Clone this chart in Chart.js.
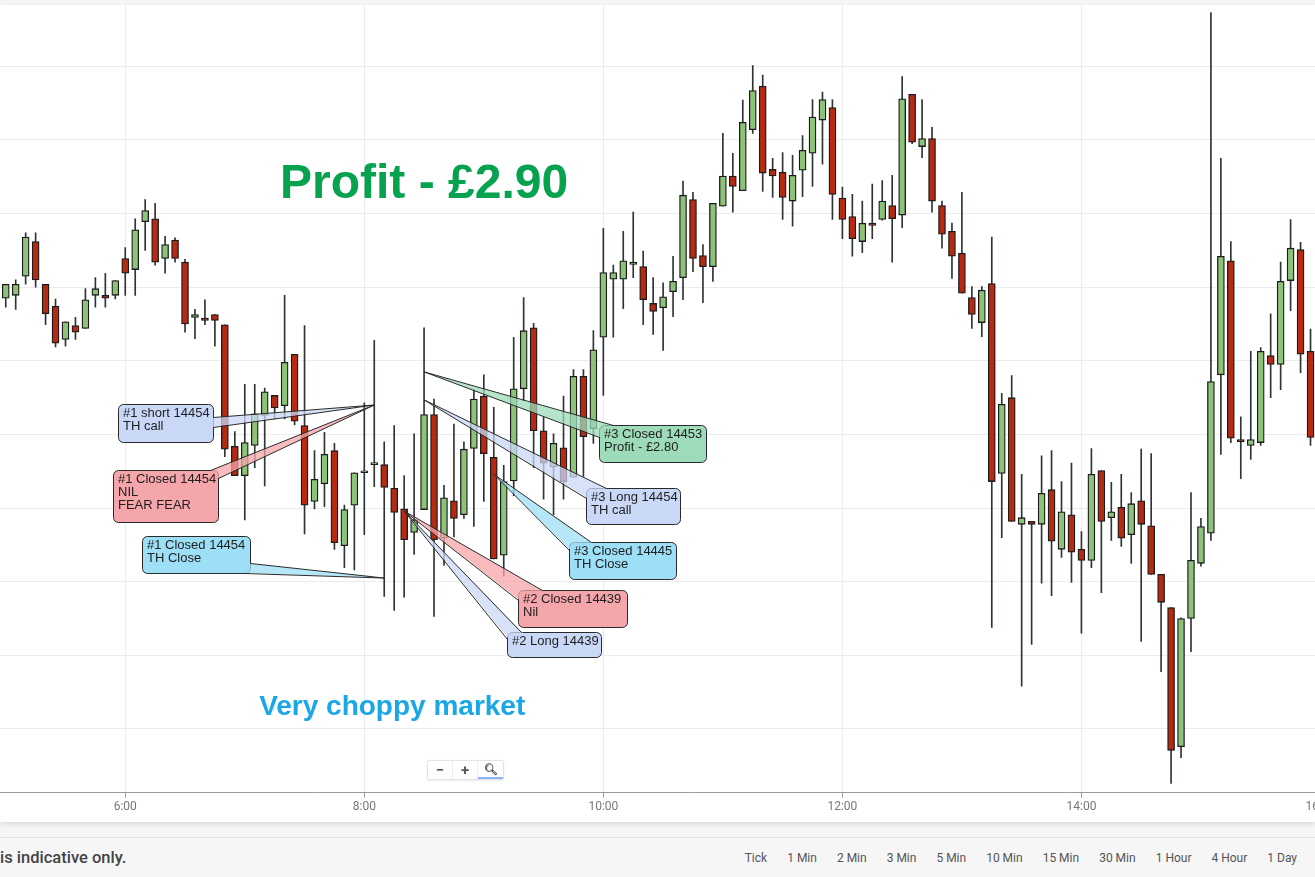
<!DOCTYPE html>
<html>
<head>
<meta charset="utf-8">
<title>5 min chart</title>
<script src="https://cdn.jsdelivr.net/npm/chart.js@4.4.1/dist/chart.umd.min.js"></script>
<style>
    html, body { margin: 0; padding: 0; width: 1315px; height: 877px; overflow: hidden; background: #f6f6f6; font-family: Roboto, Arial, sans-serif; }
    #panel { position: absolute; left: 0; top: 5px; width: 1315px; height: 817px; background: #fff; box-shadow: 0 2px 5px rgba(0,0,0,0.12); overflow: hidden; }
    #wrap { position: absolute; left: -60px; top: 0; width: 1500px; height: 812px; }
    #zoomCtl { position: absolute; left: 427px; top: 755px; height: 18px; display: flex; background: #fff; border: 1px solid #e4e4e4; border-radius: 2px; box-shadow: 0 1px 2px rgba(0,0,0,0.08); }
    #zoomCtl span { width: 25px; height: 18px; line-height: 18px; text-align: center; color: #555; font-size: 15px; font-weight: bold; border-right: 1px solid #eee; box-sizing: border-box; }
    #zoomCtl span:last-child { border-right: none; font-size: 11px; border-bottom: 2px solid #8ab4f8; }
    #footer { position: absolute; left: 0; top: 837px; width: 1315px; height: 40px; border-top: 1px solid #e2e2e2; }
    #disclaimer { position: absolute; left: 0; top: 10px; font-size: 16.5px; font-weight: 500; color: #444; }
    #frames { position: absolute; right: 18px; top: 13px; display: flex; gap: 20px; font-size: 12px; color: #555; }
</style>
</head>
<body>
<div id="panel">
    <div id="wrap"><canvas id="chart"></canvas></div>
    <div id="zoomCtl"><span>&minus;</span><span>+</span><span>&#x1F50D;&#xFE0E;</span></div>
</div>
<div id="footer">
    <div id="disclaimer">is indicative only.</div>
    <div id="frames"><span>Tick</span><span>1 Min</span><span>2 Min</span><span>3 Min</span><span>5 Min</span><span>10 Min</span><span>15 Min</span><span>30 Min</span><span>1 Hour</span><span>4 Hour</span><span>1 Day</span></div>
</div>
<script>
// 5 minute candles, one row per hour
const times = [
    '5:00','5:05','5:10','5:15','5:20','5:25','5:30','5:35','5:40','5:45','5:50','5:55',
    '6:00','6:05','6:10','6:15','6:20','6:25','6:30','6:35','6:40','6:45','6:50','6:55',
    '7:00','7:05','7:10','7:15','7:20','7:25','7:30','7:35','7:40','7:45','7:50','7:55',
    '8:00','8:05','8:10','8:15','8:20','8:25','8:30','8:35','8:40','8:45','8:50','8:55',
    '9:00','9:05','9:10','9:15','9:20','9:25','9:30','9:35','9:40','9:45','9:50','9:55',
    '10:00','10:05','10:10','10:15','10:20','10:25','10:30','10:35','10:40','10:45','10:50','10:55',
    '11:00','11:05','11:10','11:15','11:20','11:25','11:30','11:35','11:40','11:45','11:50','11:55',
    '12:00','12:05','12:10','12:15','12:20','12:25','12:30','12:35','12:40','12:45','12:50','12:55',
    '13:00','13:05','13:10','13:15','13:20','13:25','13:30','13:35','13:40','13:45','13:50','13:55',
    '14:00','14:05','14:10','14:15','14:20','14:25','14:30','14:35','14:40','14:45','14:50','14:55',
    '15:00','15:05','15:10','15:15','15:20','15:25','15:30','15:35','15:40','15:45','15:50','15:55'
];
const opens = [
    14468.5,14468.9,14471.5,14476.2,14470.4,14467.4,14462.9,14464.8,14464.4,14468.9,14468.9,14468.9,
    14473.9,14472.4,14478.9,14479.3,14473.9,14476.4,14473.4,14465.9,14465.8,14466.3,14464.9,14448.4,
    14444.4,14448.5,14452.6,14455.3,14453.9,14460.9,14451.2,14440.9,14443.3,14447.8,14434.9,14440.4,
    14444.8,14445.9,14445.9,14442.7,14439.9,14436.7,14439.8,14452.7,14435.9,14441.0,14439.1,14448.1,
    14455.2,14446.9,14433.6,14443.7,14456.2,14464.5,14450.5,14445.6,14448.2,14444.2,14457.9,14450.8,
    14463.2,14471.1,14471.1,14473.1,14472.8,14467.8,14467.2,14469.4,14471.3,14481.9,14474.3,14472.8,
    14481.0,14485.1,14483.1,14491.4,14497.3,14486.0,14485.6,14481.7,14485.9,14488.2,14492.7,14494.4,
    14482.1,14479.6,14476.2,14478.7,14479.2,14481.1,14479.8,14496.2,14489.1,14490.2,14481.1,14477.6,
    14474.6,14468.6,14465.2,14470.5,14444.7,14455.0,14437.8,14438.2,14437.8,14442.5,14434.4,14439.1,
    14434.4,14432.9,14445.1,14438.7,14440.1,14436.4,14441.0,14437.6,14431.0,14426.5,14407.6,14425.0,
    14432.5,14436.6,14458.1,14473.6,14449.3,14448.5,14448.9,14460.7,14459.5,14470.9,14475.1,14461.3
];
const highs = [
    14470.4,14471.0,14477.4,14477.4,14470.4,14468.4,14465.3,14465.9,14469.8,14471.3,14471.9,14470.9,
    14475.4,14479.3,14481.9,14481.4,14476.9,14476.7,14473.8,14467.0,14468.3,14466.3,14464.9,14450.4,
    14456.8,14456.8,14456.3,14455.3,14468.9,14460.9,14464.8,14447.8,14450.3,14448.8,14440.4,14444.8,
    14454.3,14462.8,14449.0,14451.2,14444.4,14450.1,14464.5,14454.8,14443.1,14451.4,14449.0,14456.1,
    14458.1,14453.7,14445.8,14463.2,14468.6,14465.1,14452.4,14450.1,14455.2,14458.8,14458.8,14464.1,
    14478.0,14473.0,14477.6,14480.2,14474.9,14471.3,14470.6,14474.2,14484.4,14482.9,14475.8,14481.4,
    14490.9,14488.2,14495.4,14500.1,14498.8,14487.5,14488.3,14487.9,14490.6,14495.5,14496.5,14495.5,
    14483.6,14482.6,14481.7,14484.0,14484.5,14485.2,14498.6,14496.2,14495.5,14491.7,14481.7,14478.7,
    14482.9,14470.1,14470.1,14476.8,14455.6,14458.0,14444.6,14438.2,14447.1,14447.8,14443.6,14446.1,
    14436.8,14448.1,14445.1,14443.5,14444.6,14442.1,14448.0,14447.4,14431.0,14426.5,14425.1,14442.1,
    14438.6,14507.3,14487.5,14476.2,14452.4,14461.3,14461.8,14466.4,14473.4,14479.2,14476.1,14464.3
];
const lows = [
    14467.3,14467.0,14470.4,14470.0,14464.9,14461.9,14462.0,14462.9,14464.4,14467.3,14467.3,14468.4,
    14468.9,14468.9,14475.0,14473.0,14471.9,14473.4,14463.9,14463.0,14464.9,14462.0,14447.0,14444.4,
    14438.4,14445.5,14443.0,14452.1,14452.1,14451.3,14436.5,14439.9,14440.2,14434.4,14431.9,14431.6,
    14436.4,14442.9,14428.0,14426.1,14427.9,14433.7,14439.8,14425.3,14432.2,14436.1,14438.6,14437.5,
    14440.9,14433.1,14430.8,14441.7,14454.6,14445.5,14441.2,14439.1,14441.2,14444.2,14444.3,14448.8,
    14455.3,14463.2,14467.1,14471.3,14464.9,14463.6,14461.4,14466.0,14468.3,14472.1,14467.9,14470.8,
    14481.0,14480.2,14483.1,14490.9,14483.0,14482.2,14479.2,14478.3,14482.3,14483.7,14486.7,14479.2,
    14476.6,14474.2,14474.7,14476.6,14479.1,14473.4,14478.1,14489.5,14487.6,14480.2,14475.3,14471.2,
    14469.2,14464.4,14463.3,14423.8,14436.0,14438.2,14415.8,14421.5,14429.8,14428.1,14433.3,14429.9,
    14423.0,14431.9,14428.5,14435.6,14434.8,14432.5,14421.9,14431.0,14417.8,14402.6,14406.1,14420.5,
    14432.1,14435.6,14447.3,14448.9,14444.0,14446.6,14448.5,14455.0,14456.1,14466.8,14458.4,14448.5
];
const closes = [
    14470.4,14470.4,14476.8,14471.0,14466.4,14462.4,14465.3,14463.9,14468.3,14469.8,14468.5,14470.9,
    14471.9,14477.8,14480.4,14473.4,14475.8,14473.9,14465.0,14466.3,14465.5,14465.5,14448.0,14444.4,
    14448.9,14452.8,14455.8,14453.6,14459.8,14451.8,14440.4,14443.9,14447.3,14435.3,14439.8,14444.8,
    14444.8,14445.9,14442.8,14439.4,14435.7,14438.4,14452.7,14435.7,14441.4,14438.6,14448.0,14454.8,
    14447.4,14433.1,14443.6,14456.2,14464.1,14450.5,14446.1,14448.8,14443.6,14457.9,14449.7,14461.5,
    14472.0,14472.0,14473.6,14473.4,14468.3,14466.7,14468.7,14470.8,14482.5,14473.9,14472.8,14481.4,
    14485.1,14483.7,14492.4,14496.7,14485.5,14485.1,14482.2,14485.2,14488.6,14493.1,14495.5,14482.6,
    14479.2,14476.6,14478.7,14478.4,14481.7,14479.3,14495.6,14489.7,14490.2,14481.7,14477.2,14474.2,
    14469.2,14466.3,14469.6,14443.6,14454.1,14438.2,14438.7,14437.8,14442.0,14435.5,14439.5,14434.0,
    14432.9,14444.6,14438.2,14439.5,14435.9,14440.6,14437.8,14431.0,14427.2,14407.1,14425.0,14432.9,
    14437.5,14457.2,14474.2,14449.5,14449.0,14449.3,14461.3,14459.5,14470.8,14475.3,14460.9,14449.6
];

// trade callouts: tip sits on a candle (time, price), box is placed relative to the tip in px
const notes = [
    { lines: ['#1 short 14454', 'TH call'], at: ['8:05', 14454.0], fill: '#c9d8f7', box: [-256, -1, 95, 38], base: [[95, 13], [95, 23]] },
    { lines: ['#1 Closed 14454', 'NIL', 'FEAR FEAR'], at: ['8:05', 14454.0], fill: '#f5a6aa', box: [-261, 65, 105, 52], base: [[97, 0], [105, 8]] },
    { lines: ['#1 Closed 14454', 'TH Close'], at: ['8:10', 14430.5], fill: '#9ddff6', box: [-242, -42, 108, 37], base: [[108, 27], [102, 37]] },
    { lines: ['#2 Closed 14439', 'Nil'], at: ['8:20', 14439.6], fill: '#f5a6aa', box: [114, 79, 109, 37], base: [[0, 10], [24, 0]] },
    { lines: ['#2 Long 14439'], at: ['8:20', 14439.6], fill: '#c9d8f7', box: [103, 121, 94, 25], base: [[0, 7], [14, 0]] },
    { lines: ['#3 Closed 14445', 'TH Close'], at: ['9:05', 14444.6], fill: '#9ddff6', box: [75, 68, 107, 37], base: [[0, 8], [22, 0]] },
    { lines: ['#3 Long 14454', 'TH call'], at: ['8:30', 14454.7], fill: '#c9d8f7', box: [162, 88, 94, 36], base: [[0, 10], [20, 0]] },
    { lines: ['#3 Closed 14453', 'Profit - £2.80'], at: ['8:30', 14458.5], fill: '#9ddbb9', box: [175, 53, 107, 37], base: [[0, 12], [14, 0]] }
];
const bigLabels = [
    { text: 'Profit - £2.90', at: ['8:30', 14483.9], font: 'bold 48px "Liberation Sans", Arial', color: '#07a24e' },
    { text: 'Very choppy market', at: ['8:14', 14413.0], font: 'bold 28px "Liberation Sans", Arial', color: '#1aa7e6' }
];

function toMin(s) {
    const parts = s.split(':');
    return parseInt(parts[0]) * 60 + parseInt(parts[1]);
}

function roundRect(ctx, x, y, w, h, r) {
    ctx.beginPath();
    ctx.moveTo(x + r, y);
    ctx.arcTo(x + w, y, x + w, y + h, r);
    ctx.arcTo(x + w, y + h, x, y + h, r);
    ctx.arcTo(x, y + h, x, y, r);
    ctx.arcTo(x, y, x + w, y, r);
    ctx.closePath();
}

const notesPlugin = {
    id: 'notes',
    afterDatasetsDraw(chart) {
        const ctx = chart.ctx;
        const xs = chart.scales.x, ys = chart.scales.y;
        ctx.save();

        bigLabels.forEach(l => {
            ctx.font = l.font;
            ctx.fillStyle = l.color;
            ctx.textAlign = 'center';
            ctx.textBaseline = 'middle';
            ctx.fillText(l.text, xs.getPixelForValue(toMin(l.at[0])), ys.getPixelForValue(l.at[1]));
        });

        notes.forEach(n => {
            const tx = xs.getPixelForValue(toMin(n.at[0]));
            const ty = ys.getPixelForValue(n.at[1]);
            const bx = Math.round(tx + n.box[0]) + 0.5, by = Math.round(ty + n.box[1]) + 0.5;
            const bw = n.box[2], bh = n.box[3];
            ctx.lineWidth = 1;
            ctx.strokeStyle = '#2a2a2a';
            ctx.fillStyle = n.fill;
            roundRect(ctx, bx, by, bw, bh, 5);
            ctx.fill();
            ctx.stroke();

            // pointer wedge, see-through over the candles, merged into the box edge
            const cx = bx + bw / 2, cy = by + bh / 2;
            const pts = n.base.map(b => [bx + b[0], by + b[1]]);
            const inner = pts.map(p => {
                const dx = cx - p[0], dy = cy - p[1], d = Math.hypot(dx, dy);
                return [p[0] + dx / d * 2, p[1] + dy / d * 2];
            });
            ctx.beginPath();
            ctx.moveTo(inner[0][0], inner[0][1]);
            ctx.lineTo(tx, ty);
            ctx.lineTo(inner[1][0], inner[1][1]);
            ctx.closePath();
            ctx.globalAlpha = 0.75;
            ctx.fill();
            ctx.globalAlpha = 1;
            ctx.beginPath();
            ctx.moveTo(pts[0][0], pts[0][1]);
            ctx.lineTo(tx, ty);
            ctx.lineTo(pts[1][0], pts[1][1]);
            ctx.stroke();

            ctx.fillStyle = '#1e1e1e';
            ctx.font = '13px "Liberation Sans", Arial';
            ctx.textAlign = 'left';
            ctx.textBaseline = 'middle';
            n.lines.forEach((line, k) => ctx.fillText(line, bx + 4.5, by + 9 + k * 13));
        });
        ctx.restore();
    }
};

const bodyColors = opens.map((o, i) => closes[i] < o ? '#b72a12' : '#8dc378');

new Chart(document.getElementById('chart'), {
    type: 'bar',
    data: {
        datasets: [
            {
                label: 'body',
                data: times.map((t, i) => ({ x: toMin(t), y: [opens[i], closes[i]] })),
                backgroundColor: bodyColors,
                borderColor: '#1b1b1b',
                borderWidth: 1.3,
                borderSkipped: false,
                barThickness: 7,
                minBarLength: 2,
                grouped: false
            },
            {
                label: 'wick',
                data: times.map((t, i) => ({ x: toMin(t), y: [lows[i], highs[i]] })),
                backgroundColor: '#2e3535',
                borderWidth: 0,
                barThickness: 1,
                grouped: false
            }
        ]
    },
    options: {
        responsive: true,
        maintainAspectRatio: false,
        animation: false,
        layout: { padding: { left: 0, right: 0, top: 0, bottom: 1 } },
        plugins: { legend: { display: false }, tooltip: { enabled: false } },
        scales: {
            x: {
                type: 'linear',
                min: 267,
                max: 1020,
                offset: false,
                grid: { offset: false, color: '#ececec', tickLength: 5, tickColor: '#999' },
                border: { color: '#9a9a9a' },
                ticks: {
                    stepSize: 120,
                    includeBounds: false,
                    autoSkip: false,
                    maxRotation: 0,
                    padding: 2,
                    color: '#777',
                    font: { family: 'Roboto', size: 12 },
                    callback: v => Math.floor(v / 60) + ':' + String(v % 60).padStart(2, '0')
                }
            },
            y: {
                min: 14401.36,
                max: 14508.33,
                ticks: { display: false, stepSize: 10, includeBounds: false },
                grid: { color: '#ececec', drawTicks: false },
                border: { display: false }
            }
        }
    },
    plugins: [notesPlugin]
});
</script>
</body>
</html>
